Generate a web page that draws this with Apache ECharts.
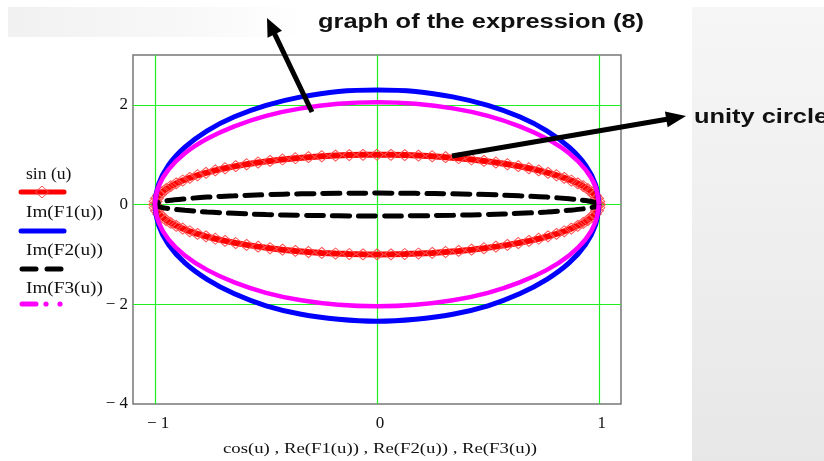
<!DOCTYPE html>
<html>
<head>
<meta charset="utf-8">
<script src="https://cdn.jsdelivr.net/npm/echarts@6/dist/echarts.min.js"></script>
<style>
  html, body { margin: 0; padding: 0; background: #ffffff; }
  #chart { width: 824px; height: 461px; }
</style>
</head>
<body>
<div id="chart"></div>
<script>
// Unit circle trace: cos(u), sin(u) sampled at 100 steps of u over one turn
const cosU = [1, 0.998, 0.992, 0.982, 0.969, 0.951, 0.930, 0.905, 0.876, 0.844, 0.809, 0.771, 0.729, 0.685, 0.637, 0.588, 0.536, 0.482, 0.426, 0.368, 0.309, 0.249, 0.187, 0.125, 0.063, 0,
  -0.063, -0.125, -0.187, -0.249, -0.309, -0.368, -0.426, -0.482, -0.536, -0.588, -0.637, -0.685, -0.729, -0.771, -0.809, -0.844, -0.876, -0.905, -0.930, -0.951, -0.969, -0.982, -0.992, -0.998, -1,
  -0.998, -0.992, -0.982, -0.969, -0.951, -0.930, -0.905, -0.876, -0.844, -0.809, -0.771, -0.729, -0.685, -0.637, -0.588, -0.536, -0.482, -0.426, -0.368, -0.309, -0.249, -0.187, -0.125, -0.063, 0,
  0.063, 0.125, 0.187, 0.249, 0.309, 0.368, 0.426, 0.482, 0.536, 0.588, 0.637, 0.685, 0.729, 0.771, 0.809, 0.844, 0.876, 0.905, 0.930, 0.951, 0.969, 0.982, 0.992, 0.998, 1];
const sinU = [0, 0.063, 0.125, 0.187, 0.249, 0.309, 0.368, 0.426, 0.482, 0.536, 0.588, 0.637, 0.685, 0.729, 0.771, 0.809, 0.844, 0.876, 0.905, 0.930, 0.951, 0.969, 0.982, 0.992, 0.998, 1,
  0.998, 0.992, 0.982, 0.969, 0.951, 0.930, 0.905, 0.876, 0.844, 0.809, 0.771, 0.729, 0.685, 0.637, 0.588, 0.536, 0.482, 0.426, 0.368, 0.309, 0.249, 0.187, 0.125, 0.063, 0,
  -0.063, -0.125, -0.187, -0.249, -0.309, -0.368, -0.426, -0.482, -0.536, -0.588, -0.637, -0.685, -0.729, -0.771, -0.809, -0.844, -0.876, -0.905, -0.930, -0.951, -0.969, -0.982, -0.992, -0.998, -1,
  -0.998, -0.992, -0.982, -0.969, -0.951, -0.930, -0.905, -0.876, -0.844, -0.809, -0.771, -0.729, -0.685, -0.637, -0.588, -0.536, -0.482, -0.426, -0.368, -0.309, -0.249, -0.187, -0.125, -0.063, 0];

// Real parts shared by F1, F2, F3 (one turn in 36 steps)
const reF = [1, 0.985, 0.940, 0.866, 0.766, 0.643, 0.500, 0.342, 0.174, 0, -0.174, -0.342, -0.500, -0.643, -0.766, -0.866, -0.940, -0.985, -1,
  -0.985, -0.940, -0.866, -0.766, -0.643, -0.500, -0.342, -0.174, 0, 0.174, 0.342, 0.500, 0.643, 0.766, 0.866, 0.940, 0.985, 1];
const imF1 = [0, 0.40, 0.79, 1.15, 1.48, 1.76, 1.99, 2.16, 2.27, 2.30, 2.27, 2.16, 1.99, 1.76, 1.48, 1.15, 0.79, 0.40, 0,
  -0.41, -0.80, -1.17, -1.50, -1.79, -2.03, -2.20, -2.30, -2.34, -2.30, -2.20, -2.03, -1.79, -1.50, -1.17, -0.80, -0.41, 0];
const imF2 = [0, 0.04, 0.08, 0.115, 0.15, 0.175, 0.20, 0.215, 0.225, 0.23, 0.225, 0.215, 0.20, 0.175, 0.15, 0.115, 0.08, 0.04, 0,
  -0.04, -0.08, -0.115, -0.15, -0.175, -0.20, -0.215, -0.225, -0.23, -0.225, -0.215, -0.20, -0.175, -0.15, -0.115, -0.08, -0.04, 0];
const imF3 = [0, 0.36, 0.70, 1.03, 1.32, 1.57, 1.78, 1.93, 2.02, 2.05, 2.02, 1.93, 1.78, 1.57, 1.32, 1.03, 0.70, 0.36, 0,
  -0.35, -0.70, -1.02, -1.31, -1.56, -1.77, -1.92, -2.01, -2.04, -2.01, -1.92, -1.77, -1.56, -1.31, -1.02, -0.70, -0.35, 0];

// Axis ticks
const xTicks = [-1, 0, 1];
const yTicks = [-4, -2, 0, 2];
const yGrid = [-2, 0, 2];

// Text
const seriesNames = ['sin (u)', 'Im(F1(u))', 'Im(F2(u))', 'Im(F3(u))'];
const xTitle = 'cos(u) , Re(F1(u)) , Re(F2(u)) , Re(F3(u))';
const noteTop = 'graph of the expression (8)';
const noteRight = 'unity circle';

const pairs = (xs, ys) => xs.map((x, i) => [x, ys[i]]);
const serif = '"Liberation Serif", "Times New Roman", serif';
const sans = '"Liberation Sans", Arial, sans-serif';
const fmtNum = v => (v < 0 ? '\u2212 ' + Math.abs(v) : String(v));

const chart = echarts.init(document.getElementById('chart'), null, { renderer: 'canvas' });

const GREEN = '#1fef1f';

function arrow(x1, y1, x2, y2, headLen, headHalf) {
  const dx = x2 - x1, dy = y2 - y1;
  const len = Math.hypot(dx, dy);
  const ux = dx / len, uy = dy / len;
  const bx = x2 - ux * headLen, by = y2 - uy * headLen;
  const px = -uy, py = ux;
  return [
    { type: 'line', z: 100, shape: { x1: x1, y1: y1, x2: bx + ux * 2, y2: by + uy * 2 },
      style: { stroke: '#000', lineWidth: 5 } },
    { type: 'polygon', z: 100, shape: { points: [[x2, y2], [bx + px * headHalf, by + py * headHalf], [bx - px * headHalf, by - py * headHalf]] },
      style: { fill: '#000' } }
  ];
}

// wide serif lettering used by the legend and the axis title
function serifText(x, y, text, size, sx, align) {
  return {
    type: 'text', z: 50, x: x, y: y, scaleX: sx, scaleY: 1,
    style: { x: 0, y: 0, text: text, align: align || 'left', verticalAlign: 'middle', fontFamily: serif, fontSize: size, fill: '#111' }
  };
}

const graphics = [
  // slide backdrop
  { type: 'rect', z: -10, shape: { x: 8, y: 7, width: 300, height: 30 },
    style: { fill: new echarts.graphic.LinearGradient(0, 0, 1, 0, [{ offset: 0, color: '#f1f1f1' }, { offset: 0.6, color: '#f8f8f8' }, { offset: 1, color: '#ffffff' }]) } },
  { type: 'rect', z: -10, shape: { x: 692, y: 7, width: 132, height: 454 },
    style: { fill: new echarts.graphic.LinearGradient(0, 0, 0, 1, [{ offset: 0, color: '#f6f6f6' }, { offset: 1, color: '#e7e7e7' }]) } },

  // legend
  serifText(26, 175, seriesNames[0], 16, 1.1),
  { type: 'line', z: 50, shape: { x1: 21, y1: 192, x2: 64, y2: 192 }, style: { stroke: '#ff0000', lineWidth: 5, lineCap: 'round' } },
  { type: 'polygon', z: 51, shape: { points: [[42, 186], [48.5, 192], [42, 198], [35.5, 192]] }, style: { fill: 'none', stroke: '#ff5050', lineWidth: 1 } },
  serifText(26, 213, seriesNames[1], 16, 1.2),
  { type: 'line', z: 50, shape: { x1: 21, y1: 231, x2: 64, y2: 231 }, style: { stroke: '#0000ff', lineWidth: 5, lineCap: 'round' } },
  serifText(26, 251, seriesNames[2], 16, 1.2),
  { type: 'line', z: 50, shape: { x1: 22, y1: 269, x2: 36, y2: 269 }, style: { stroke: '#000', lineWidth: 5, lineCap: 'round' } },
  { type: 'line', z: 50, shape: { x1: 47, y1: 269, x2: 61, y2: 269 }, style: { stroke: '#000', lineWidth: 5, lineCap: 'round' } },
  serifText(26, 289, seriesNames[3], 16, 1.2),
  { type: 'line', z: 50, shape: { x1: 22, y1: 304, x2: 36, y2: 304 }, style: { stroke: '#ff00ff', lineWidth: 5, lineCap: 'round' } },
  { type: 'circle', z: 50, shape: { cx: 46, cy: 304, r: 2.6 }, style: { fill: '#ff00ff' } },
  { type: 'circle', z: 50, shape: { cx: 60, cy: 304, r: 2.6 }, style: { fill: '#ff00ff' } },

  // axis title
  serifText(380, 449, xTitle, 15.5, 1.21, 'center'),

  // annotations
  { type: 'text', z: 100, x: 318, y: 22, scaleX: 1.27, style: { x: 0, y: 0, text: noteTop, verticalAlign: 'middle', fontFamily: sans, fontWeight: 'bold', fontSize: 20, fill: '#111' } },
  { type: 'text', z: 100, x: 694, y: 117, scaleX: 1.27, style: { x: 0, y: 0, text: noteRight, verticalAlign: 'middle', fontFamily: sans, fontWeight: 'bold', fontSize: 20, fill: '#111' } }
].concat(arrow(312, 112, 267, 18, 18, 8), arrow(452, 156, 686, 116, 20, 8));

chart.setOption({
  animation: false,
  backgroundColor: '#ffffff',
  grid: { left: 133, right: 203, top: 55, bottom: 57, outerBoundsMode: 'none', containLabel: false,
    show: true, borderColor: '#777777', borderWidth: 1.5, backgroundColor: 'transparent' },
  xAxis: {
    type: 'value', min: -1.1, max: 1.1,
    axisLine: { show: false }, axisTick: { show: false }, splitLine: { show: false },
    axisLabel: { customValues: xTicks, formatter: fmtNum, margin: 11, padding: [0, 0, 0, 6], fontFamily: serif, fontSize: 17, color: '#111' }
  },
  yAxis: {
    type: 'value', min: -4, max: 3,
    axisLine: { show: false }, axisTick: { show: false }, splitLine: { show: false },
    axisLabel: { customValues: yTicks, formatter: fmtNum, margin: 5, padding: [5, 0, 0, 0], fontFamily: serif, fontSize: 17, color: '#111' }
  },
  graphic: graphics,
  series: [
    {
      name: seriesNames[0], type: 'line', data: pairs(cosU, sinU),
      lineStyle: { color: '#ff0000', width: 6 },
      symbol: 'diamond', symbolSize: [13, 11], showAllSymbol: true,
      itemStyle: { color: 'rgba(255,255,255,0)', borderColor: '#ff5050', borderWidth: 1 },
      silent: true, z: 3,
      markLine: {
        silent: true, symbol: 'none', label: { show: false }, z: 1,
        lineStyle: { color: GREEN, width: 1, type: 'solid' },
        data: xTicks.map(v => ({ xAxis: v, lineStyle: { color: GREEN, width: 1.2, type: 'solid' } }))
          .concat(yGrid.map(v => ({ yAxis: v, lineStyle: { color: GREEN, width: 1, type: 'solid' } })))
      }
    },
    {
      name: seriesNames[1], type: 'line', data: pairs(reF, imF1), smooth: 0.35,
      symbol: 'none', lineStyle: { color: '#0000ff', width: 5 }, silent: true, z: 4
    },
    {
      name: seriesNames[2], type: 'line', data: pairs(reF, imF2), smooth: 0.35,
      symbol: 'none', lineStyle: { color: '#000000', width: 5, type: [17, 9], cap: 'round' }, silent: true, z: 5
    },
    {
      name: seriesNames[3], type: 'line', data: pairs(reF, imF3), smooth: 0.35,
      symbol: 'none', lineStyle: { color: '#ff00ff', width: 4.5 }, silent: true, z: 6
    }
  ]
});
</script>
</body>
</html>
